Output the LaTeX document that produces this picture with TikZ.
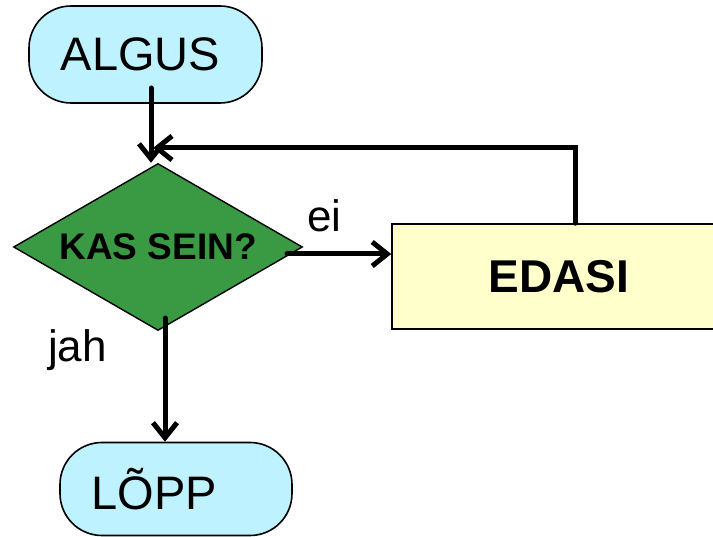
\documentclass[tikz,border=0pt]{standalone}
\usepackage{fontspec}
\setmainfont{Liberation Sans}
\usetikzlibrary{shapes.geometric,arrows.meta}
\definecolor{termfill}{RGB}{190,242,255}
\definecolor{decfill}{RGB}{58,154,68}
\definecolor{procfill}{RGB}{255,255,204}
\tikzset{
  terminal/.style={draw=black, line width=1.6pt, fill=termfill, rounded corners=42pt,
    inner sep=0pt, font=\fontsize{47}{56}\selectfont},
  decision/.style={draw=black, line width=1.4pt, fill=decfill, diamond, aspect=1.73,
    inner sep=0pt, minimum width=289pt, minimum height=167pt,
    font=\bfseries\fontsize{37}{44}\selectfont},
  process/.style={draw=black, line width=1.6pt, fill=procfill, inner sep=0pt,
    minimum width=334pt, minimum height=105pt, font=\bfseries\fontsize{46}{55}\selectfont},
  flow/.style={line width=5pt, line cap=round, line join=miter,
    -{Straight Barb[length=15pt,width=24pt]}},
  lbl/.style={inner sep=0pt, anchor=base west, font=\fontsize{44}{52}\selectfont}
}
\begin{document}
\begin{tikzpicture}[x=1pt,y=-1pt]
\useasboundingbox (0,0) rectangle (713,537);
% nodes
\node[terminal, minimum width=233pt, minimum height=97pt] (algus) at (145.5,54.5) {ALGUS\hspace*{10pt}};
\node[decision] (kas) at (158,247) {KAS SEIN?};
\node[process] (edasi) at (559,276.5) {EDASI};
\node[terminal, minimum width=232pt, minimum height=93pt] (lopp) at (176,489) {LÕPP\hspace*{44pt}};
% connector end points
\coordinate (a1) at (151,88);
\coordinate (fb) at (153,148);
\coordinate (e0) at (287,254);
\coordinate (d0) at (165,318);
% connectors
\draw[flow] (a1) -- (a1 |- kas.north);
\draw[flow] ([xshift=16pt]edasi.north) |- (fb);
\draw[flow] (e0) -- (e0 -| edasi.west);
\draw[flow] (d0) -- (d0 |- lopp.north);
% branch labels
\node[lbl] (ei) at (307,232) {ei};
\node[lbl] (jah) at (48,362) {jah};
\end{tikzpicture}
\end{document}
